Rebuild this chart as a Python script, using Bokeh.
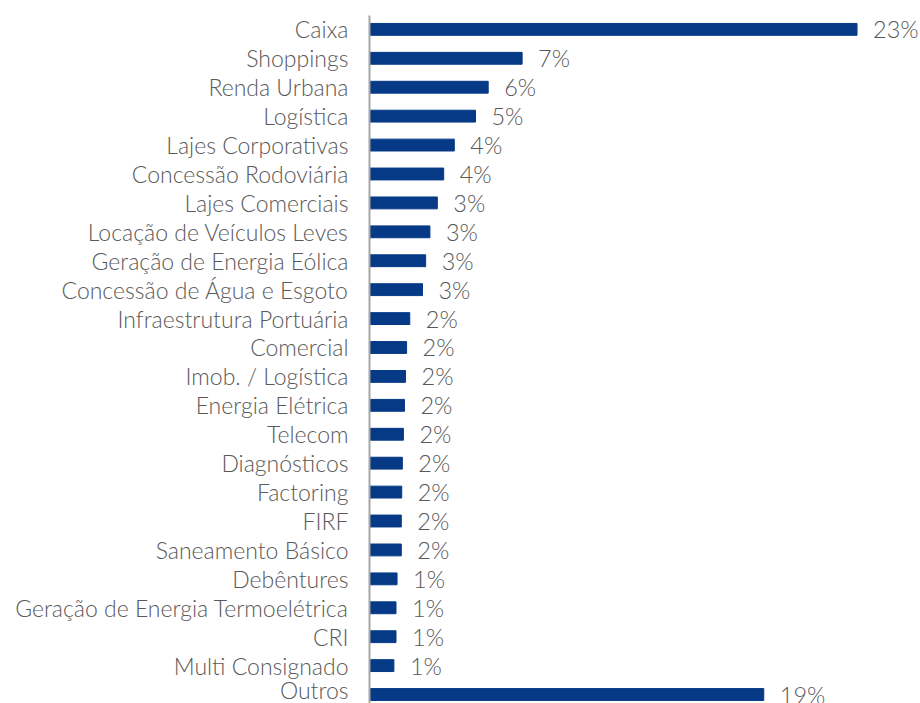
from bokeh.plotting import figure
from bokeh.models import Range1d, FixedTicker, ColumnDataSource
from bokeh.core.properties import value
from bokeh.embed import file_html
from bokeh.resources import INLINE

categories = ["Caixa", "Shoppings", "Renda Urbana", "Logística", "Lajes Corporativas",
              "Concessão Rodoviária", "Lajes Comerciais", "Locação de Veículos Leves",
              "Geração de Energia Eólica", "Concessão de Água e Esgoto",
              "Infraestrutura Portuária", "Comercial", "Imob. / Logística",
              "Energia Elétrica", "Telecom", "Diagnósticos", "Factoring", "FIRF",
              "Saneamento Básico", "Debêntures", "Geração de Energia Termoelétrica",
              "CRI", "Multi Consignado", "Outros"]
values = [23.0, 7.2, 5.6, 5.0, 4.0, 3.5, 3.2, 2.85, 2.65, 2.5, 1.9, 1.75, 1.7, 1.65,
          1.6, 1.55, 1.52, 1.5, 1.5, 1.3, 1.25, 1.25, 1.15, 18.6]
value_labels = ["23%", "7%", "6%", "5%", "4%", "4%", "3%", "3%", "3%", "3%", "2%", "2%",
                "2%", "2%", "2%", "2%", "2%", "2%", "2%", "1%", "1%", "1%", "1%", "19%"]

n = len(categories)
ypos = [n - 1 - i for i in range(n)]

src = ColumnDataSource(dict(y=ypos, v=values, cat=categories, lab=value_labels))

FONT = "'Lato Light', Lato"
TEXT_COLOR = "#595959"

p = figure(width=918, height=703, output_backend="svg", toolbar_location=None,
           x_range=Range1d(0, 25.9), y_range=Range1d(-0.31, 23.48))
p.min_border_left = 369
p.min_border_right = 0
p.min_border_top = 15
p.min_border_bottom = 0
p.outline_line_color = None
p.xgrid.visible = False
p.ygrid.visible = False
p.xaxis.visible = False

p.hbar(y="y", right="v", left=0, height=0.41, source=src, color="#063A87")
p.text(x="v", y="y", text="lab", source=src, x_offset=16, text_baseline="middle",
       text_align="left", text_font=value(FONT), text_font_size="23.5px",
       text_color=TEXT_COLOR)

yaxis = p.yaxis[0]
yaxis.ticker = FixedTicker(ticks=ypos)
yaxis.major_label_overrides = {y: c for y, c in zip(ypos, categories)}
yaxis.major_tick_line_color = None
yaxis.minor_tick_line_color = None
yaxis.axis_line_color = "#A6A6A6"
yaxis.axis_line_width = 2
yaxis.major_label_standoff = 15
yaxis.major_label_text_font = FONT
yaxis.major_label_text_font_size = "23px"
yaxis.major_label_text_color = TEXT_COLOR

open("out.html", "w").write(file_html(p, INLINE))
